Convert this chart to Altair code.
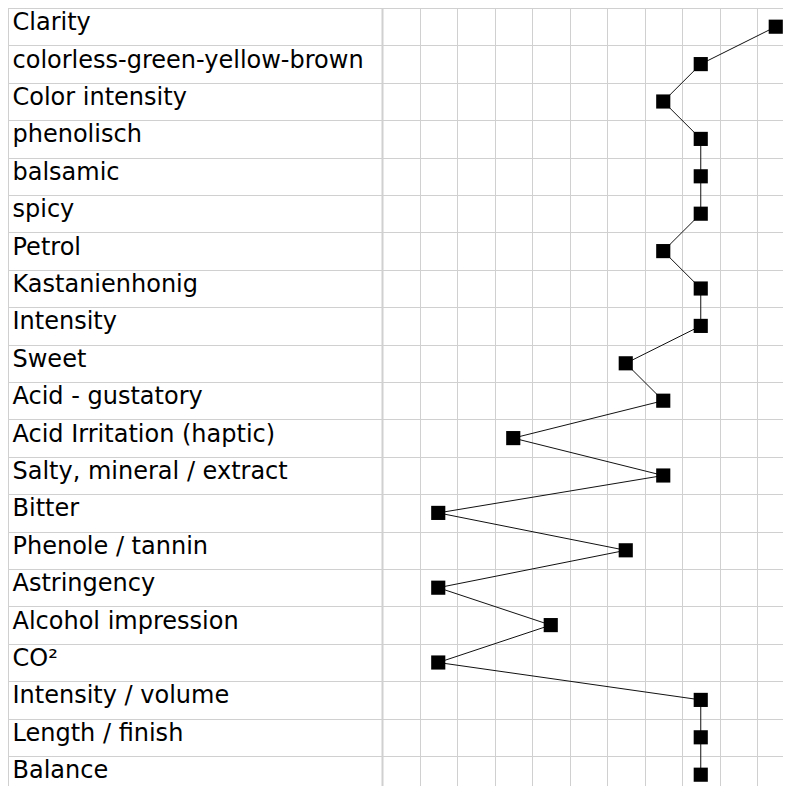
import altair as alt
import pandas as pd

categories = [
    "Clarity", "colorless-green-yellow-brown", "Color intensity", "phenolisch",
    "balsamic", "spicy", "Petrol", "Kastanienhonig", "Intensity", "Sweet",
    "Acid - gustatory", "Acid Irritation (haptic)", "Salty, mineral / extract",
    "Bitter", "Phenole / tannin", "Astringency", "Alcohol impression", "CO²",
    "Intensity / volume", "Length / finish", "Balance",
]
scores = [10, 8, 7, 8, 8, 8, 7, 8, 8, 6, 7, 3, 7, 1, 6, 1, 4, 1, 8, 8, 8]
scale_ticks = list(range(13))

df = pd.DataFrame({"attribute": categories, "score": scores, "idx": list(range(len(categories)))})

COL = 37.5      # grid cell width
ROW = 37.4      # row height
GRID = "#d0d0d0"
LABEL_W = 374
VIEW_W = 775 - LABEL_W
VIEW_H = 778

x_enc = alt.X(
    "pos:Q",
    scale=alt.Scale(domain=[0, 12], nice=False, zero=False, range=[0, 12 * COL]),
    axis=alt.Axis(title=None, labels=False, ticks=False, domain=False, grid=True,
                  values=scale_ticks, tickCount=13, gridColor=GRID, gridWidth=1),
)
y_enc = alt.Y(
    "attribute:N",
    sort=categories,
    scale=alt.Scale(paddingInner=0, paddingOuter=0, range=[0, ROW * len(categories)]),
    axis=alt.Axis(
        title=None, tickBand="extent", grid=True, gridColor=GRID, gridWidth=1,
        ticks=True, tickSize=LABEL_W, tickColor=GRID, tickWidth=1,
        domain=True, domainColor=GRID, domainWidth=2,
        labelAlign="left", labelPadding=-4, labelFontSize=24, labelOffset=-4,
        labelFont="DejaVu Sans", labelColor="black", labelLimit=0,
        labelBaseline="middle",
    ),
)

base = alt.Chart(df).transform_calculate(pos="datum.score + 0.5").encode(x=x_enc, y=y_enc)

line = base.mark_line(color="#111111", strokeWidth=1).encode(order=alt.Order("idx:Q"))
points = base.mark_point(shape="square", filled=True, color="black", size=200, opacity=1)
border = alt.Chart(pd.DataFrame({"a": [0]})).mark_rule(color=GRID, strokeWidth=1).encode(
    x=alt.value(-LABEL_W + 0.5), y=alt.value(0), y2=alt.value(VIEW_H)
)

chart = (
    alt.layer(line, points, border)
    .properties(
        width=VIEW_W, height=VIEW_H,
        autosize=alt.AutoSizeParams(type="none"),
        padding={"left": LABEL_W, "top": 0, "right": 0, "bottom": 0},
    )
    .configure_view(stroke=None)
)

chart.save("out.html", embed_options={"renderer": "svg", "actions": False})
